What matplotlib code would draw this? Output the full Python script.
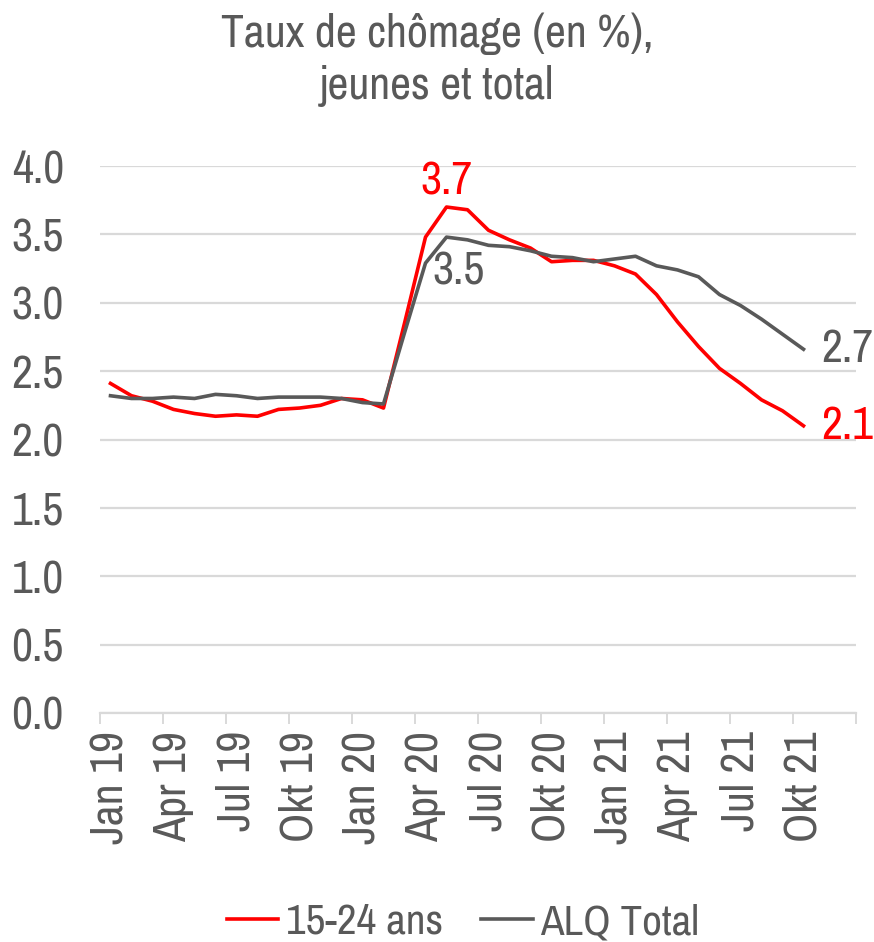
import matplotlib
matplotlib.use("Agg")
import matplotlib.pyplot as plt
from matplotlib import font_manager as fm
import numpy as np

names = {f.name for f in fm.fontManager.ttflist}
FONT = "Archivo Narrow" if "Archivo Narrow" in names else "Liberation Sans"
plt.rcParams["font.family"] = [FONT, "DejaVu Sans"]

months = ["Jan 19", "Feb 19", "Mar 19", "Apr 19", "Mai 19", "Jun 19", "Jul 19", "Aug 19", "Sep 19",
          "Okt 19", "Nov 19", "Dez 19", "Jan 20", "Feb 20", "Mar 20", "Apr 20", "Mai 20", "Jun 20",
          "Jul 20", "Aug 20", "Sep 20", "Okt 20", "Nov 20", "Dez 20", "Jan 21", "Feb 21", "Mar 21",
          "Apr 21", "Mai 21", "Jun 21", "Jul 21", "Aug 21", "Sep 21", "Okt 21", "Nov 21", "Dez 21"]
youth = [2.41, 2.32, 2.28, 2.22, 2.19, 2.17, 2.18, 2.17, 2.22, 2.23, 2.25, 2.30, 2.29, 2.23,
         2.85, 3.48, 3.70, 3.68, 3.53, 3.46, 3.40, 3.30, 3.31, 3.31, 3.27, 3.21, 3.06, 2.86,
         2.68, 2.52, 2.41, 2.29, 2.21, 2.10]
total = [2.32, 2.30, 2.30, 2.31, 2.30, 2.33, 2.32, 2.30, 2.31, 2.31, 2.31, 2.30, 2.27, 2.26,
         2.78, 3.29, 3.48, 3.46, 3.42, 3.41, 3.38, 3.34, 3.33, 3.30, 3.32, 3.34, 3.27, 3.24,
         3.19, 3.06, 2.98, 2.88, 2.77, 2.66]
series_names = ["15-24 ans", "ALQ Total"]
yticks = [0.0, 0.5, 1.0, 1.5, 2.0, 2.5, 3.0, 3.5, 4.0]

RED = "#ff0000"
GRAY = "#595959"
TXT = "#595959"
FS = 33

fig = plt.figure(figsize=(8.74, 9.42), dpi=100)
ax = fig.add_axes([100/874, 1-713/942, 756/874, (713-166)/942])

x = np.arange(len(youth)) + 0.5
ax.plot(x, youth, color=RED, lw=2.6, label=series_names[0], solid_joinstyle="round")
ax.plot(x, total, color=GRAY, lw=2.6, label=series_names[1], solid_joinstyle="round")

ax.set_xlim(0, len(months))
ax.set_ylim(0, 4.0)
ax.set_yticks(yticks)
ax.set_yticklabels([f"{v:.1f}" for v in yticks])
ax.yaxis.grid(True, color="#d9d9d9", lw=1.6)
ax.set_axisbelow(True)
ax.tick_params(axis="y", length=0, labelsize=FS, labelcolor=TXT, pad=26)

major = np.arange(0, len(months), 3) + 0.5
ax.set_xticks(major)
ax.set_xticklabels([months[int(i)] for i in major - 0.5], rotation=90)
ax.set_xticks(np.arange(0, len(months) + 1, 3), minor=True)
ax.tick_params(axis="x", which="major", length=0, labelsize=FS, labelcolor=TXT, pad=13)
ax.tick_params(axis="x", which="minor", length=8, width=1.4, color="#d9d9d9")

for s in ["top", "right", "left"]:
    ax.spines[s].set_visible(False)
ax.spines["bottom"].set_color("#d9d9d9")
ax.spines["bottom"].set_linewidth(1.6)

i_peak = int(np.argmax(youth))
ax.annotate(f"{youth[i_peak]:.1f}", (x[i_peak], youth[i_peak]), xytext=(0, 3),
            textcoords="offset points", ha="center", va="bottom", fontsize=FS, color=RED)
ax.annotate(f"{total[i_peak]:.1f}", (x[i_peak], total[i_peak]), xytext=(-10, -10),
            textcoords="offset points", ha="left", va="top", fontsize=FS, color=GRAY)
ax.annotate(f"{total[-1]:.1f}", (x[-1], total[-1]), xytext=(13, 0),
            textcoords="offset points", ha="left", va="center", fontsize=FS, color=GRAY)
ax.annotate(f"{youth[-1]:.1f}", (x[-1], youth[-1]), xytext=(13, 0),
            textcoords="offset points", ha="left", va="center", fontsize=FS, color=RED)

fig.text(0.5, 1-60/942, "Taux de chômage (en %),\njeunes et total", ha="center", va="center",
         fontsize=FS, color=TXT, linespacing=1.3)

fig.legend(loc="center", bbox_to_anchor=(463/874, 1-922/942), ncol=2, frameon=False,
           fontsize=31, labelcolor=TXT, handlelength=1.2, handletextpad=0.17, columnspacing=0.9)

fig.savefig("out.png", dpi=100)
